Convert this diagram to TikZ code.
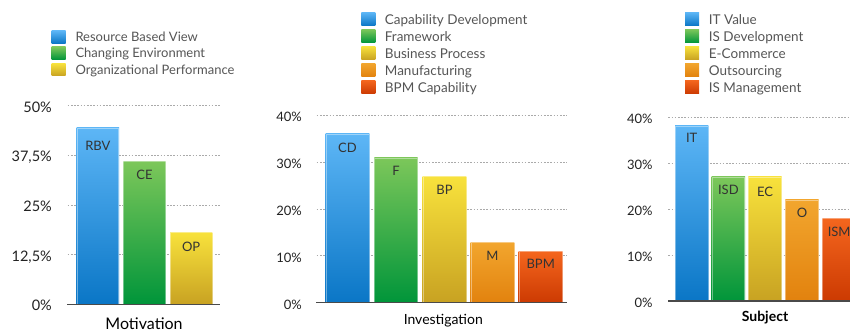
\documentclass[tikz,border=0pt]{standalone}
\usepackage{fontspec}
\setmainfont{Lato}
\definecolor{bT}{HTML}{5DB6F6}\definecolor{bB}{HTML}{0A76C6}
\definecolor{gT}{HTML}{7CC75A}\definecolor{gB}{HTML}{00953A}
\definecolor{yT}{HTML}{F8E23C}\definecolor{yB}{HTML}{C8A222}
\definecolor{oT}{HTML}{F2A62E}\definecolor{oB}{HTML}{E2820E}
\definecolor{rT}{HTML}{F4661E}\definecolor{rB}{HTML}{CC3A02}
\definecolor{legendgray}{HTML}{555555}
\definecolor{axisdark}{HTML}{222222}
\definecolor{labeldark}{HTML}{333333}
\definecolor{gridgray}{HTML}{AAAAAA}
\definecolor{basegray}{HTML}{4A4A4A}
\tikzset{
  gridline/.style={gridgray, line width=0.8pt, dash pattern=on 1.6pt off 1.6pt},
  baseline/.style={basegray, line width=1.4pt},
  legtextA/.style={inner sep=0pt, anchor=base west, text=legendgray, font=\fontsize{13}{15}\selectfont},
  legtextB/.style={inner sep=0pt, anchor=base west, text=legendgray, font=\fontsize{13.5}{16}\selectfont},
  axlabA/.style={inner sep=0pt, anchor=base east, text=axisdark, font=\fontsize{14.5}{17}\selectfont},
  axlabB/.style={inner sep=0pt, anchor=base east, text=axisdark, font=\fontsize{13}{16}\selectfont},
  barlab/.style={inner sep=0pt, anchor=base, text=labeldark, font=\fontsize{13}{16}\selectfont},
  charttitle/.style={inner sep=0pt, anchor=base, text=black},
}
% name, x0, x1, top, base, colour prefix, label, label baseline
\newcommand\mybar[8]{%
  \path[top color=#6T,bottom color=#6B] (#2,#4) rectangle (#3,#5);
  \draw[white,opacity=.4,line width=.7pt] (#2+.35,#5) -- (#2+.35,#4+.35) -- (#3-.35,#4+.35) -- (#3-.35,#5);
  \node[barlab] (#1) at ({(#2+#3)/2},#8) {#7};
}
% name, x, ycenter, height, colour prefix
\newcommand\legsq[5]{%
  \path[top color=#5T,bottom color=#5B] (#2,#3-#4/2) rectangle (#2+14,#3+#4/2);
}
\begin{document}
\begin{tikzpicture}[x=1pt,y=-1pt]
\useasboundingbox (0,0) rectangle (850,331);

% ---------- Chart 1: Motivation ----------
\foreach \g in {105.7,155.4,205,254.7} \draw[gridline] (67.7,\g) -- (220,\g);
\node[axlabA] (m50) at (52,112.2) {50\%};
\node[axlabA] (m375) at (52,161.9) {37,5\%};
\node[axlabA] (m25) at (52,211.5) {25\%};
\node[axlabA] (m125) at (52,261.2) {12,5\%};
\node[axlabA] (m0) at (52,310.8) {0\%};
\mybar{rbv}{76.7}{119}{127.7}{304.3}{b}{RBV}{150.4}
\mybar{ce}{123.3}{165.7}{161.3}{304.3}{g}{CE}{179.4}
\mybar{op}{170}{212.3}{232.3}{304.3}{y}{OP}{251.4}
\draw[baseline] (67,304.3) -- (220,304.3);
\node[charttitle, font=\fontsize{16}{19}\selectfont] (mot) at (144,329) {Motivation};

\legsq{l1a}{51.7}{37}{12.6}{b}
\legsq{l1b}{51.7}{53.3}{12.6}{g}
\legsq{l1c}{51.7}{69.6}{12.6}{y}
\node[legtextA] (t1a) at (75.3,41.5) {Resource Based View};
\node[legtextA] (t1b) at (75.3,57.8) {Changing Environment};
\node[legtextA] (t1c) at (75.3,74.1) {Organizational Performance};

% ---------- Chart 2: Investigation ----------
\foreach \g in {115.1,162,208.9,255.8} \draw[gridline] (316.7,\g) -- (567,\g);
\node[axlabB] (i40) at (302,121.6) {40\%};
\node[axlabB] (i30) at (302,168.5) {30\%};
\node[axlabB] (i20) at (302,215.4) {20\%};
\node[axlabB] (i10) at (302,262.3) {10\%};
\node[axlabB] (i0) at (302,309.2) {0\%};
\mybar{cd}{325.7}{369.3}{134}{302.7}{b}{CD}{152.4}
\mybar{fw}{374.3}{417.7}{157.7}{302.7}{g}{F}{175.4}
\mybar{bp}{422.7}{466.3}{176}{302.7}{y}{BP}{194}
\mybar{mf}{470.7}{514.3}{242.3}{302.7}{o}{M}{260.4}
\mybar{bpm}{518.7}{562.7}{251.3}{302.7}{r}{BPM}{268.7}
\draw[baseline] (316,302.7) -- (567,302.7);
\node[charttitle, font=\fontsize{14}{17}\selectfont] (inv) at (443.3,324.3) {Investigation};

\legsq{l2a}{361.3}{19}{13.4}{b}
\legsq{l2b}{361.3}{36}{13.4}{g}
\legsq{l2c}{361.3}{53}{13.4}{y}
\legsq{l2d}{361.3}{70}{13.4}{o}
\legsq{l2e}{361.3}{87}{13.4}{r}
\node[legtextB] (t2a) at (384.7,24.3) {Capability Development};
\node[legtextB] (t2b) at (384.7,41.3) {Framework};
\node[legtextB] (t2c) at (384.7,58.3) {Business Process};
\node[legtextB] (t2d) at (384.7,75.3) {Manufacturing};
\node[legtextB] (t2e) at (384.7,92.3) {BPM Capability};

% ---------- Chart 3: Subject ----------
\foreach \g in {117.3,163.2,209.1,255} \draw[gridline] (668.3,\g) -- (850,\g);
\node[axlabB] (s40) at (652.7,123.8) {40\%};
\node[axlabB] (s30) at (652.7,169.7) {30\%};
\node[axlabB] (s20) at (652.7,215.6) {20\%};
\node[axlabB] (s10) at (652.7,261.5) {10\%};
\node[axlabB] (s0) at (652.7,307.5) {0\%};
\mybar{itv}{675}{708.3}{126}{301}{b}{IT}{143}
\mybar{isd}{711.7}{745}{176.7}{301}{g}{ISD}{194.7}
\mybar{ec}{748.3}{781.7}{176.7}{301}{y}{EC}{196.4}
\mybar{os}{785.3}{818.7}{199.7}{301}{o}{O}{217.4}
\mybar{ism}{822.3}{856}{218.3}{301}{r}{ISM}{236}
\draw[baseline] (668,301) -- (850,301);
\node[charttitle, font=\bfseries\fontsize{14}{17}\selectfont] (subj) at (765,321.7) {Subject};

\legsq{l3a}{685}{19}{13.4}{b}
\legsq{l3b}{685}{36}{13.4}{g}
\legsq{l3c}{685}{53}{13.4}{y}
\legsq{l3d}{685}{70}{13.4}{o}
\legsq{l3e}{685}{87}{13.4}{r}
\node[legtextB] (t3a) at (708.7,24.3) {IT Value};
\node[legtextB] (t3b) at (708.7,41.3) {IS Development};
\node[legtextB] (t3c) at (708.7,58.3) {E-Commerce};
\node[legtextB] (t3d) at (708.7,75.3) {Outsourcing};
\node[legtextB] (t3e) at (708.7,92.3) {IS Management};
\end{tikzpicture}
\end{document}
